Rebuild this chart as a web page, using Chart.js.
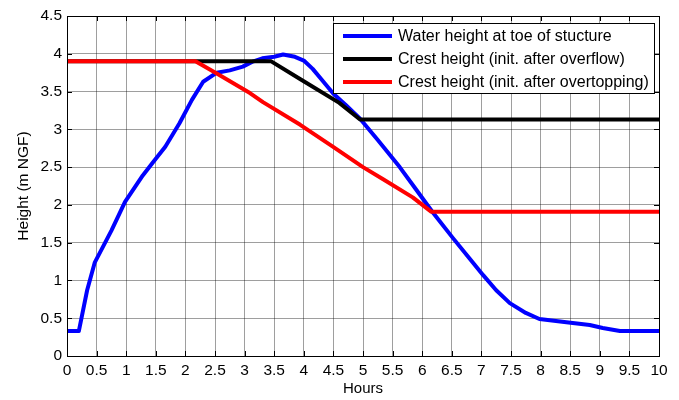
<!DOCTYPE html>
<html>
<head>
<meta charset="utf-8">
<script src="https://cdn.jsdelivr.net/npm/chart.js@4.4.1/dist/chart.umd.min.js"></script>
<style>
  html, body { margin: 0; padding: 0; background: #fff; }
  #wrap { width: 679px; height: 400px; }
</style>
</head>
<body>
<div id="wrap"><canvas id="myChart" width="679" height="400"></canvas></div>
<script>
// series data (hours, m NGF)
var waterX = [0, 0.2, 0.34, 0.47, 0.75, 0.98, 1.28, 1.45, 1.66, 1.9, 2.11, 2.3, 2.53, 2.75, 2.97, 3.15, 3.3, 3.5, 3.65, 3.85, 4.0, 4.15, 4.3, 4.5, 4.7, 4.95, 5.25, 5.62, 5.9, 6.18, 6.52, 6.8, 7.03, 7.25, 7.48, 7.75, 7.98, 8.4, 8.83, 9.05, 9.34, 10];
var waterY = [0.33, 0.33, 0.87, 1.24, 1.66, 2.04, 2.39, 2.56, 2.77, 3.08, 3.39, 3.63, 3.75, 3.78, 3.83, 3.9, 3.94, 3.96, 3.99, 3.96, 3.91, 3.8, 3.66, 3.47, 3.33, 3.14, 2.86, 2.5, 2.2, 1.9, 1.56, 1.29, 1.07, 0.87, 0.7, 0.57, 0.49, 0.45, 0.41, 0.37, 0.33, 0.33];

var overflowX = [0, 3.45, 3.95, 4.6, 4.95, 10];
var overflowY = [3.9, 3.9, 3.66, 3.35, 3.13, 3.13];

var overtopX = [0, 2.17, 2.53, 3.09, 3.31, 3.94, 4.49, 5.0, 5.34, 5.84, 6.15, 10];
var overtopY = [3.9, 3.9, 3.74, 3.48, 3.36, 3.06, 2.77, 2.5, 2.34, 2.1, 1.91, 1.91];

var seriesLabels = ['Water height at toe of stucture', 'Crest height (init. after overflow)', 'Crest height (init. after overtopping)'];

var xTicks = [0, 0.5, 1, 1.5, 2, 2.5, 3, 3.5, 4, 4.5, 5, 5.5, 6, 6.5, 7, 7.5, 8, 8.5, 9, 9.5, 10];
var xTickLabels = ['0', '0.5', '1', '1.5', '2', '2.5', '3', '3.5', '4', '4.5', '5', '5.5', '6', '6.5', '7', '7.5', '8', '8.5', '9', '9.5', '10'];
var yTicks = [0, 0.5, 1, 1.5, 2, 2.5, 3, 3.5, 4, 4.5];
var yTickLabels = ['0', '0.5', '1', '1.5', '2', '2.5', '3', '3.5', '4', '4.5'];

var FONT = 'Liberation Sans, Arial, sans-serif';

function pts(xs, ys) {
    return xs.map(function (x, i) { return { x: x, y: ys[i] }; });
}

// box, inward ticks and legend like the matlab figure
var matlabAxes = {
    id: 'matlabAxes',
    afterDatasetsDraw: function (chart) {
        var ctx = chart.ctx;
        var a = chart.chartArea;
        var xs = chart.scales.x, ys = chart.scales.y;
        ctx.save();
        ctx.strokeStyle = '#000';
        ctx.lineWidth = 1;
        ctx.beginPath();
        xTicks.forEach(function (v) {
            var px = Math.round(xs.getPixelForValue(v)) + 0.5;
            ctx.moveTo(px, a.bottom); ctx.lineTo(px, a.bottom - 5);
            ctx.moveTo(px, a.top); ctx.lineTo(px, a.top + 5);
        });
        yTicks.forEach(function (v) {
            var py = Math.round(ys.getPixelForValue(v)) + 0.5;
            ctx.moveTo(a.left, py); ctx.lineTo(a.left + 5, py);
            ctx.moveTo(a.right, py); ctx.lineTo(a.right - 5, py);
        });
        ctx.stroke();
        ctx.strokeRect(Math.round(a.left) + 0.5, Math.round(a.top) + 0.5, Math.round(a.right - a.left), Math.round(a.bottom - a.top));

        // legend (drawn in data order: blue, black, red)
        var lx = 333, ly = 23, lw = 321, lh = 70;
        ctx.fillStyle = '#fff';
        ctx.fillRect(lx, ly, lw, lh);
        ctx.strokeRect(lx + 0.5, ly + 0.5, lw, lh);
        ctx.font = '16px ' + FONT;
        ctx.textBaseline = 'middle';
        chart.data.datasets.forEach(function (ds, i) {
            var y = 36 + i * 23;
            ctx.strokeStyle = ds.borderColor;
            ctx.lineWidth = 4;
            ctx.beginPath();
            ctx.moveTo(343, y); ctx.lineTo(392, y);
            ctx.stroke();
            ctx.fillStyle = '#000';
            ctx.fillText(ds.label, 398, y + 1);
        });
        ctx.restore();
    }
};

var ctx = document.getElementById('myChart');
var myChart = new Chart(ctx, {
    type: 'line',
    data: {
        datasets: [
            { label: seriesLabels[0], data: pts(waterX, waterY), borderColor: '#0000ff', order: 3 },
            { label: seriesLabels[1], data: pts(overflowX, overflowY), borderColor: '#000000', order: 2 },
            { label: seriesLabels[2], data: pts(overtopX, overtopY), borderColor: '#ff0000', order: 1 }
        ]
    },
    options: {
        responsive: false,
        animation: false,
        layout: { padding: { left: 0, right: 20, top: 16, bottom: 0 } },
        elements: {
            line: { borderWidth: 4, tension: 0, fill: false, borderJoinStyle: 'round', borderCapStyle: 'butt' },
            point: { radius: 0, hoverRadius: 0 }
        },
        plugins: {
            legend: { display: false },
            tooltip: { enabled: false }
        },
        scales: {
            x: {
                type: 'linear',
                min: 0,
                max: 10,
                afterBuildTicks: function (s) { s.ticks = xTicks.map(function (v) { return { value: v }; }); },
                afterFit: function (s) { s.height = 44; },
                ticks: {
                    autoSkip: false,
                    maxRotation: 0,
                    padding: 5,
                    color: '#000',
                    font: { family: FONT, size: 15.5 },
                    callback: function (v) { return xTickLabels[xTicks.indexOf(v)]; }
                },
                grid: { color: 'rgba(0,0,0,0.38)', drawTicks: false },
                border: { color: '#000' },
                title: { display: true, text: 'Hours', color: '#000', font: { family: FONT, size: 15 }, padding: { top: 0, bottom: 2 } }
            },
            y: {
                min: 0,
                max: 4.5,
                afterBuildTicks: function (s) { s.ticks = yTicks.map(function (v) { return { value: v }; }); },
                afterFit: function (s) { s.width = 67; },
                ticks: {
                    padding: 5,
                    color: '#000',
                    font: { family: FONT, size: 15.5 },
                    callback: function (v) { return yTickLabels[yTicks.indexOf(v)]; }
                },
                grid: { color: 'rgba(0,0,0,0.38)', drawTicks: false },
                border: { color: '#000' },
                title: { display: true, text: 'Height (m NGF)', color: '#000', font: { family: FONT, size: 15.5 }, padding: { top: 14, bottom: 0 } }
            }
        }
    },
    plugins: [matlabAxes]
});
</script>
</body>
</html>
